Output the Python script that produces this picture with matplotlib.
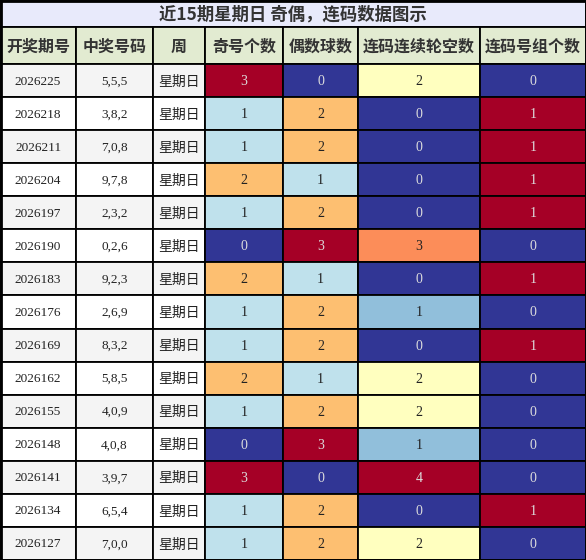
import matplotlib
matplotlib.use("Agg")
import matplotlib.pyplot as plt
from matplotlib.patches import Rectangle

title = "近15期星期日 奇偶，连码数据图示"
headers = ["开奖期号", "中奖号码", "周", "奇号个数", "偶数球数", "连码连续轮空数", "连码号组个数"]
periods = ["2026225","2026218","2026211","2026204","2026197","2026190","2026183","2026176",
           "2026169","2026162","2026155","2026148","2026141","2026134","2026127"]
numbers = ["5,5,5","3,8,2","7,0,8","9,7,8","2,3,2","0,2,6","9,2,3","2,6,9","8,3,2","5,8,5",
           "4,0,9","4,0,8","3,9,7","6,5,4","7,0,0"]
weekday = ["星期日"] * 15
odd = [3,1,1,2,1,0,2,1,1,2,1,0,3,1,1]
even = [0,2,2,1,2,3,1,2,2,1,2,3,0,2,2]
gap = [2,0,0,0,0,3,0,1,0,2,2,1,4,0,2]
lian = [0,1,1,1,1,0,1,0,1,0,0,0,0,1,0]

oe_col = {0:"#313695",1:"#bfe1ec",2:"#fdbf71",3:"#a50026"}
gap_col = {0:"#313695",1:"#91bfdb",2:"#ffffbf",3:"#fc8d59",4:"#a50026"}
lian_col = {0:"#313695",1:"#a50026"}
dark = {"#313695","#a50026"}

W, H = 586, 560
fig = plt.figure(figsize=(W/100, H/100), dpi=100)
ax = fig.add_axes([0,0,1,1])
ax.set_xlim(0, W); ax.set_ylim(H, 0); ax.axis("off")

xs = [0,76,153,205,283,358,480,586]
cjk = ["Noto Sans CJK SC","DejaVu Sans"]
serif = ["Liberation Serif","Noto Sans CJK SC"]
lw = 1.3

def cell(x0,x1,y0,y1,fc,text,color="#222222",fam=serif,size=10,weight="normal"):
    ax.add_patch(Rectangle((x0,y0),x1-x0,y1-y0,facecolor=fc,edgecolor="black",lw=lw))
    ax.text((x0+x1)/2,(y0+y1)/2+1,text,ha="center",va="center",color=color,
            family=fam,fontsize=size,fontweight=weight)

cell(0,W,0,27,"#e8eafb",title,fam=["Noto Sans CJK SC"],size=12.5,weight="bold",color="#333333")
for i,h in enumerate(headers):
    cell(xs[i],xs[i+1],27,64,"#e2ebd1",h,fam=["Noto Sans CJK SC"],size=11.5,weight="bold",color="#333333")

rh = (H-64)/15
for r in range(15):
    y0 = 64 + r*rh; y1 = y0 + rh
    bg = "#f4f4f4" if r % 2 == 0 else "#ffffff"
    cell(xs[0],xs[1],y0,y1,bg,periods[r],size=9.5)
    cell(xs[1],xs[2],y0,y1,bg,numbers[r],size=9.5)
    cell(xs[2],xs[3],y0,y1,bg,weekday[r],fam=cjk,size=10)
    for ci,(vals,cmap) in enumerate([(odd,oe_col),(even,oe_col),(gap,gap_col),(lian,lian_col)]):
        fc = cmap[vals[r]]
        cell(xs[3+ci],xs[4+ci],y0,y1,fc,str(vals[r]),
             color="#dddddd" if fc in dark else "#222222",size=10)

ax.add_patch(Rectangle((0.5,0.5),W-1,H-1,fill=False,edgecolor="black",lw=2))
fig.savefig("out.png", dpi=100)
